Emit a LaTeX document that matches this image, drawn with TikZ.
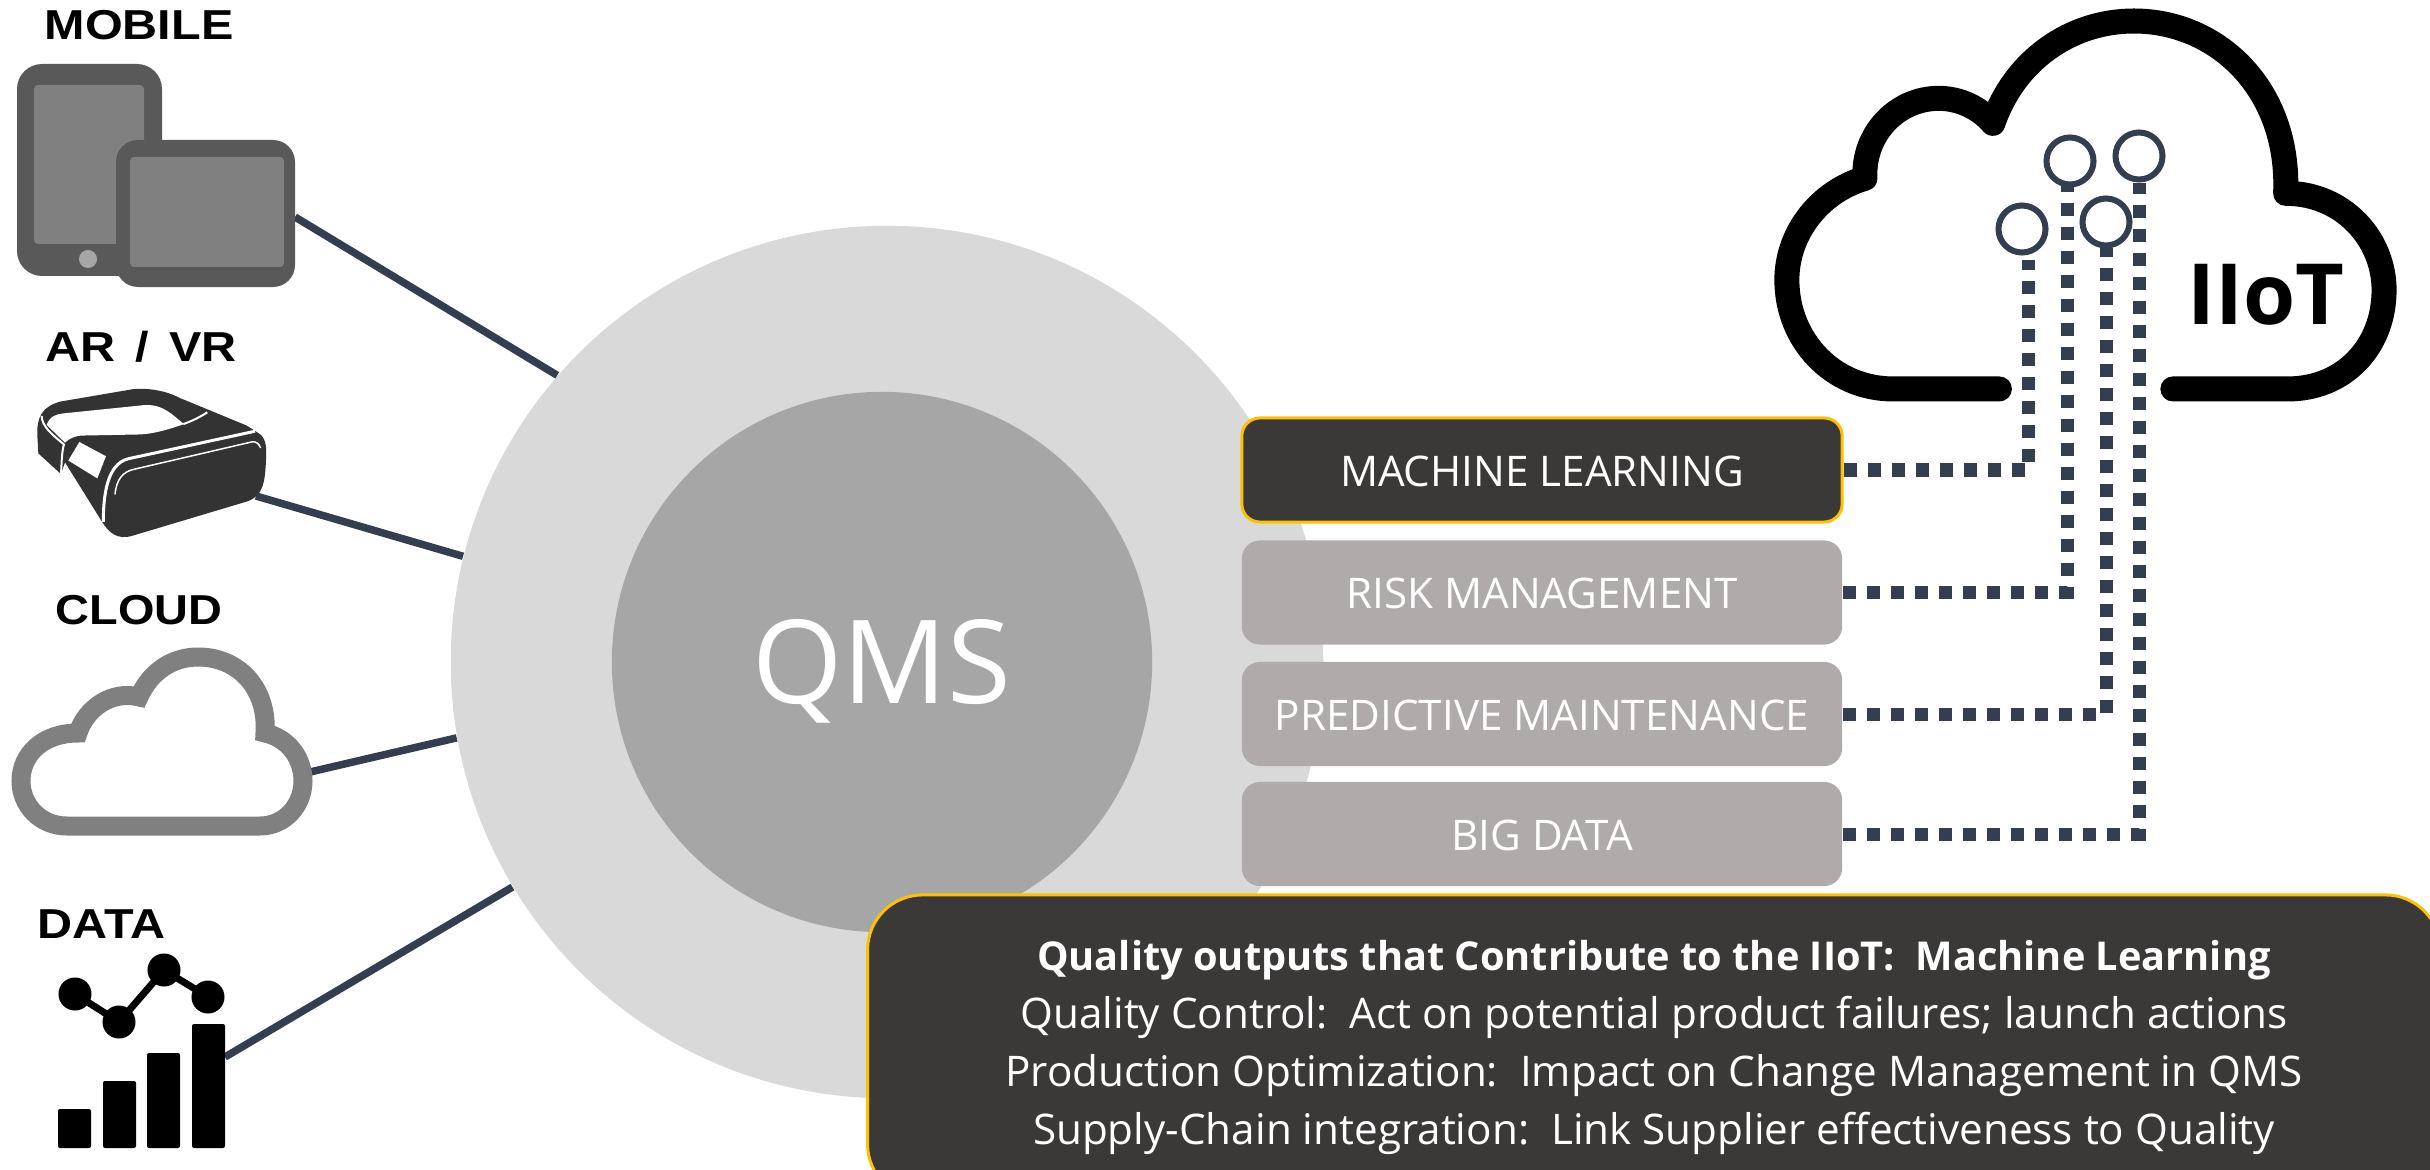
\documentclass[tikz,border=0pt]{standalone}
\usepackage{fontspec}
\setmainfont{Open Sans}
\newfontfamily\labelfont[FakeStretch=1.16]{Liberation Sans}
\definecolor{barcol}{HTML}{3B3838}
\definecolor{greycol}{HTML}{AFABAB}
\definecolor{goldcol}{HTML}{FFC000}
\definecolor{linecol}{HTML}{333F50}
\definecolor{vrcol}{HTML}{333333}
\tikzset{
	iconlabel/.style={anchor=base west, inner sep=0pt, font=\labelfont\bfseries\fontsize{11.9}{14}\selectfont},
	topicbox/.style={rectangle, rounded corners=0.18cm, minimum width=6cm, minimum height=1.04cm, inner sep=0pt, text=white, text height=0.32cm, text depth=0cm, font=\fontsize{12}{14}\selectfont},
	idlebox/.style={topicbox, fill=greycol},
	activebox/.style={topicbox, fill=barcol, draw=goldcol, line width=0.03cm},
	spoke/.style={draw=linecol, line width=0.075cm},
	uplink/.style={draw=linecol, line width=0.13cm, dash pattern=on 0.13cm off 0.11cm},
	sensor/.style={circle, draw=linecol, line width=0.06cm, minimum size=0.47cm, inner sep=0pt}
}
\begin{document}
\begin{tikzpicture}[x=0.01cm,y=-0.01cm]
	\clip (0,0) rectangle (2430,1170);

	\node[circle, fill=black!15, minimum size=8.72cm, inner sep=0pt] (outer) at (887,662) {};
	\node[circle, fill=black!35, minimum size=5.4cm, inner sep=0pt, text=white, text height=0.83cm, text depth=0cm, font=\fontsize{33}{40}\selectfont] (qms) at (882,662) {QMS};

	\coordinate (mobileport) at (295,217);
	\coordinate (vrport) at (256,496);
	\coordinate (cloudport) at (310,772);
	\coordinate (dataport) at (225,1057);
	\draw[spoke] (mobileport) -- (outer.139.3);
	\draw[spoke] (vrport) -- (outer.166.1);
	\draw[spoke] (cloudport) -- (outer.190.7);
	\draw[spoke] (dataport) -- (outer.211.8);

	\node[iconlabel] (mobilelabel) at (44,40) {MOBILE};
	\node[iconlabel] (vrlabel) at (45,361) {AR\hspace{.48em}/\hspace{.48em}VR};
	\node[iconlabel] (cloudlabel) at (55,624) {\addfontfeature{FakeStretch=1.12}CLOUD};
	\node[iconlabel] (datalabel) at (37,938) {DATA};

	\fill[black!65, rounded corners=0.25cm] (17,64) rectangle (162,276);
	\fill[black!50, rounded corners=0.04cm] (34,85) rectangle (144,244);
	\fill[black!35] (88,259) circle (0.09cm);
	\fill[black!65, rounded corners=0.22cm] (116,140) rectangle (295,287);
	\fill[black!50, rounded corners=0.04cm] (130,157) rectangle (284,267);

	\begin{scope}[xscale=0.3333,yscale=0.357]
		\fill[vrcol] (112,1220) .. controls (110,1170) and (125,1140) .. (180,1125) -- (400,1090) .. controls (470,1085) and (520,1105) .. (540,1115) -- (740,1192) -- (770,1210) .. controls (800,1225) and (800,1250) .. (798,1290) .. controls (795,1350) and (790,1390) .. (740,1405) -- (400,1500) .. controls (350,1515) and (325,1490) .. (305,1460) -- (195,1295) -- (183,1328) -- (115,1270) -- cycle;
		\fill[white] (140,1190) .. controls (150,1165) and (170,1160) .. (190,1158) -- (430,1135) .. controls (490,1130) and (520,1165) .. (552,1188) .. controls (500,1205) and (460,1215) .. (420,1217) -- (250,1220) .. controls (225,1220) and (205,1230) .. (195,1240) -- cycle;
		\draw[white, line width=0.02cm] (550,1188) .. controls (580,1178) and (600,1168) .. (622,1155);
		\draw[white, line width=0.02cm] (125,1165) .. controls (125,1195) and (160,1220) .. (192,1245) .. controls (185,1265) and (185,1300) .. (183,1328);
		\fill[white] (205,1290) -- (238,1238) -- (318,1278) -- (292,1340) -- cycle;
		\draw[white, line width=0.03cm] (310,1462) .. controls (310,1390) and (320,1300) .. (385,1285) -- (765,1208);
		\draw[white, line width=0.015cm] (345,1385) .. controls (350,1340) and (370,1322) .. (400,1315) -- (755,1238) .. controls (770,1235) and (778,1245) .. (782,1255);
	\end{scope}

	\draw[black!50, line width=0.19cm, miter limit=3] (67,826) .. controls (40,826) and (21,805) .. (21,781) .. controls (21,755) and (42,733) .. (78,733) .. controls (86,708) and (112,690) .. (139,697) .. controls (150,672) and (172,657) .. (198,657) .. controls (240,657) and (268,690) .. (265,733) .. controls (288,738) and (303,758) .. (303,781) .. controls (303,805) and (285,826) .. (260,826) -- cycle;

	\fill[rounded corners=0.02cm] (58,1109) rectangle (91,1148);
	\fill[rounded corners=0.02cm] (103,1081) rectangle (136,1148);
	\fill[rounded corners=0.02cm] (147,1053) rectangle (180,1148);
	\fill[rounded corners=0.02cm] (192,1024) rectangle (225,1148);
	\draw[line width=0.07cm] (75,994) -- (119,1022) -- (164,970) -- (208,997);
	\fill (75,994) circle (0.165cm);
	\fill (119,1022) circle (0.165cm);
	\fill (164,970) circle (0.165cm);
	\fill (208,997) circle (0.165cm);

	\begin{scope}[shift={(1750,0)},xscale=0.4337,yscale=0.3333]
		\draw[line width=0.25cm, line cap=round, line join=round] (575,1167) -- (330,1167) .. controls (190,1167) and (85,1020) .. (85,840) .. controls (85,700) and (160,575) .. (265,535) .. controls (260,400) and (340,295) .. (435,295) .. controls (485,295) and (530,325) .. (560,370) .. controls (610,180) and (740,63) .. (885,63) .. controls (1080,63) and (1245,270) .. (1235,580) .. controls (1370,580) and (1462,720) .. (1462,870) .. controls (1462,1040) and (1370,1167) .. (1240,1167) -- (975,1167);
	\end{scope}

	\node[sensor] (sensora) at (2022,229) {};
	\node[sensor] (sensorb) at (2070,161) {};
	\node[sensor] (sensorc) at (2106,222) {};
	\node[sensor] (sensord) at (2139,156) {};
	\coordinate (tipa) at (2028,260);
	\coordinate (tipb) at (2067,185);
	\coordinate (tipc) at (2106,248);
	\coordinate (tipd) at (2139,183);

	\node[font=\bfseries\fontsize{24}{28}\selectfont, inner sep=0pt, anchor=base] (iiot) at (2266,324) {IIoT};

	\node[activebox] (ml) at (1542,470) {MACHINE LEARNING};
	\node[idlebox] (risk) at (1542,592.5) {RISK MANAGEMENT};
	\node[idlebox] (maint) at (1542,714) {PREDICTIVE MAINTENANCE};
	\node[idlebox] (bigdata) at (1542,834) {BIG DATA};

	\draw[uplink] (ml.east) -| (tipa);
	\draw[uplink] (risk.east) -| (tipb);
	\draw[uplink] (maint.east) -| (tipc);
	\draw[uplink] (bigdata.east) -| (tipd);

	\node[rectangle, rounded corners=0.55cm, fill=barcol, draw=goldcol, line width=0.03cm, minimum width=15.72cm, minimum height=3.04cm, inner sep=0pt, text=white, align=center, font=\fontsize{12}{16.5}\selectfont] (panel) at (1654,1047) {{\fontsize{11.3}{16.5}\selectfont\bfseries Quality outputs that Contribute to the IIoT:\ \ Machine Learning}\\Quality Control:\ \ Act on potential product failures; launch actions\\Production Optimization:\ \ Impact on Change Management in QMS\\Supply-Chain integration:\ \ Link Supplier effectiveness to Quality};
\end{tikzpicture}
\end{document}
